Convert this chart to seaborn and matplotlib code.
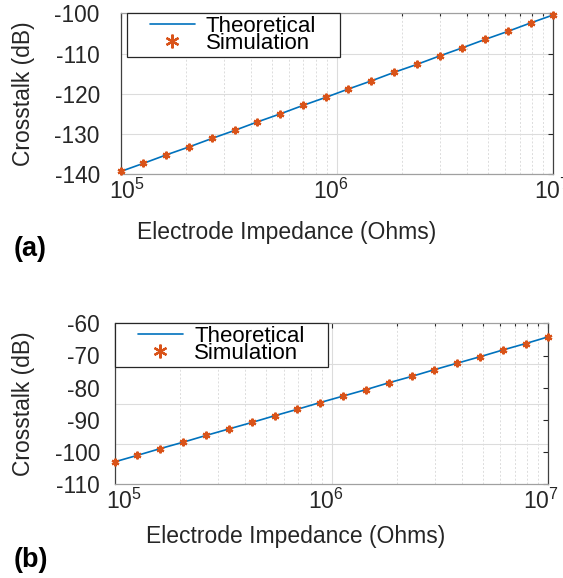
import matplotlib
matplotlib.use("Agg")
import matplotlib.pyplot as plt
import seaborn as sns
import pandas as pd
from matplotlib.legend_handler import HandlerLine2D
from matplotlib.ticker import FixedLocator, FixedFormatter, LogLocator, NullFormatter
from matplotlib.transforms import ScaledTranslation

# ---------------- data ----------------
impedance = [1.00e5, 1.27e5, 1.62e5, 2.07e5, 2.64e5, 3.36e5, 4.28e5, 5.46e5, 6.95e5, 8.86e5,
             1.13e6, 1.44e6, 1.83e6, 2.34e6, 2.98e6, 3.79e6, 4.83e6, 6.16e6, 7.85e6, 1.00e7]

crosstalk_a_theory = [-139.3, -137.3, -135.2, -133.2, -131.1, -129.1, -127.0, -125.0, -122.9, -120.9,
                      -118.8, -116.8, -114.7, -112.7, -110.6, -108.6, -106.5, -104.5, -102.4, -100.4]
crosstalk_a_sim = [-139.3, -137.3, -135.2, -133.2, -131.1, -129.1, -127.0, -125.0, -122.9, -120.9,
                   -118.8, -116.8, -114.7, -112.7, -110.6, -108.6, -106.5, -104.5, -102.4, -100.4]

crosstalk_b_theory = [-103.0, -101.0, -98.9, -96.9, -94.8, -92.8, -90.8, -88.7, -86.7, -84.6,
                      -82.6, -80.6, -78.5, -76.5, -74.4, -72.4, -70.4, -68.3, -66.3, -64.2]
crosstalk_b_sim = [-103.0, -101.0, -98.9, -96.9, -94.8, -92.8, -90.8, -88.7, -86.7, -84.6,
                   -82.6, -80.6, -78.5, -76.5, -74.4, -72.4, -70.4, -68.3, -66.3, -64.2]

series_labels = ["Theoretical", "Simulation"]
x_label = "Electrode Impedance (Ohms)"
y_label = "Crosstalk (dB)"
panel_labels = ["(a)", "(b)"]
x_tick_values = [1e5, 1e6, 1e7]
x_tick_labels = [r"$\mathregular{10^{5}}$", r"$\mathregular{10^{6}}$", r"$\mathregular{10^{7}}$"]
y_ticks_a = [-140, -130, -120, -110, -100]
y_ticks_b = [-110, -100, -90, -80, -70, -60]
y_grid_b = [-97.5, -85, -72.5]

# ---------------- style ----------------
sns.set_theme(style="white")
plt.rcParams["font.family"] = ["Liberation Sans", "DejaVu Sans"]
plt.rcParams["mathtext.fontset"] = "custom"
plt.rcParams["mathtext.rm"] = "Liberation Sans"
plt.rcParams["mathtext.it"] = "Liberation Sans:italic"
plt.rcParams["mathtext.bf"] = "Liberation Sans:bold"

BLUE = "#0072BD"
ORANGE = "#D95319"
TXT = "#262626"
GRID = "#dcdcdc"

fig = plt.figure(figsize=(5.63, 5.78), dpi=100)
W, H = 563.0, 578.0

def px_axes(left, top, right, bottom):
    return fig.add_axes([left / W, 1 - bottom / H, (right - left) / W, (bottom - top) / H])

ax_a = px_axes(120.7, 13.3, 553.3, 174.3)
ax_b = px_axes(115.0, 323.3, 548.3, 484.3)

panels = [
    dict(ax=ax_a, theo=crosstalk_a_theory, sim=crosstalk_a_sim, yticks=y_ticks_a, ypad=15.0,
         xlab=(0.384, -0.287), ylab=(-0.198, 0.5), leg=(0.014, 0.0, 0.493, 1.0),
         grid=None, xoff=[6.0, -6.5, -1.0]),
    dict(ax=ax_b, theo=crosstalk_b_theory, sim=crosstalk_b_sim, yticks=y_ticks_b, ypad=10.8,
         xlab=(0.416, -0.254), ylab=(-0.1846, 0.5), leg=(0.0, 0.0, 0.492, 1.0),
         grid=y_grid_b, xoff=[9.0, -5.5, -7.0]),
]

for p in panels:
    ax = p["ax"]
    yticks = p["yticks"]
    df = pd.DataFrame({"impedance": impedance, "theory": p["theo"], "sim": p["sim"]})
    sns.lineplot(data=df, x="impedance", y="theory", ax=ax, color=BLUE, linewidth=1.2,
                 errorbar=None, legend=False, clip_on=False, zorder=3)
    sns.lineplot(data=df, x="impedance", y="sim", ax=ax, color=ORANGE, linestyle="",
                 marker=(6, 2, 0), markersize=5.5, markeredgewidth=1.6,
                 markeredgecolor=ORANGE, errorbar=None, legend=False, clip_on=False, zorder=4)
    l_theo, l_sim = ax.lines[0], ax.lines[1]

    ax.set_xscale("log")
    ax.set_xlim(x_tick_values[0], x_tick_values[-1])
    ax.set_ylim(yticks[0], yticks[-1])
    ax.xaxis.set_major_locator(FixedLocator(x_tick_values))
    ax.xaxis.set_major_formatter(FixedFormatter(x_tick_labels))
    ax.xaxis.set_minor_locator(LogLocator(base=10, subs=[2, 3, 4, 5, 6, 7, 8, 9]))
    ax.xaxis.set_minor_formatter(NullFormatter())
    ax.yaxis.set_major_locator(FixedLocator(yticks))
    ax.set_yticklabels([str(v) for v in yticks])

    ax.set_axisbelow(True)
    ax.grid(True, which="major", axis="x", color=GRID, linewidth=0.8, linestyle="-")
    ax.grid(True, which="minor", axis="x", color=GRID, linewidth=0.7, linestyle=(0, (2, 2)))
    if p["grid"] is None:
        ax.grid(True, which="major", axis="y", color=GRID, linewidth=0.8, linestyle="-")
    else:
        ax.grid(False, axis="y")
        for gy in p["grid"]:
            ax.axhline(gy, color=GRID, linewidth=0.8, zorder=0.5)

    ax.tick_params(axis="both", which="both", direction="in", top=True, right=True,
                   colors=TXT, width=0.8)
    ax.tick_params(axis="y", which="major", labelsize=16.3)
    ax.tick_params(axis="x", which="major", labelsize=16.5)
    ax.tick_params(axis="both", which="major", length=3.6)
    ax.tick_params(axis="both", which="minor", length=2.2)
    ax.tick_params(axis="y", which="major", pad=p["ypad"])
    ax.tick_params(axis="x", which="major", pad=3)

    for lab, dx in zip(ax.get_xticklabels(), p["xoff"]):
        lab.set_transform(lab.get_transform() + ScaledTranslation(dx / 100.0, 0, fig.dpi_scale_trans))

    for side in ["left", "right"]:
        ax.spines[side].set_color("#404040")
        ax.spines[side].set_linewidth(0.9)
    for side in ["top", "bottom"]:
        ax.spines[side].set_color("#a0a0a0")
        ax.spines[side].set_linewidth(0.9)

    ax.set_xlabel(x_label, fontsize=16.5, color=TXT)
    ax.set_ylabel(y_label, fontsize=16.5, color=TXT)
    ax.xaxis.set_label_coords(*p["xlab"])
    ax.yaxis.set_label_coords(*p["ylab"])

    handler = HandlerLine2D(xpad=0.91)
    leg = ax.legend(handles=[l_theo, l_sim], labels=series_labels, loc="upper left",
                    bbox_to_anchor=p["leg"], mode="expand", borderaxespad=0,
                    borderpad=0.12, labelspacing=-0.17, handlelength=2.94,
                    handletextpad=0.5, fontsize=16, frameon=True, fancybox=False,
                    edgecolor=TXT, facecolor="white", framealpha=1, markerscale=1.8,
                    handler_map={l_theo: handler, l_sim: handler})
    leg.get_frame().set_linewidth(0.9)
    for t in leg.get_texts():
        t.set_color("black")

fig.text(13.3 / W, 1 - 249 / H, panel_labels[0], fontsize=19.5, fontweight="bold",
         va="center", ha="left", color="black")
fig.text(13.3 / W, 1 - 560 / H, panel_labels[1], fontsize=19.5, fontweight="bold",
         va="center", ha="left", color="black")

fig.savefig("out.png", dpi=100)
